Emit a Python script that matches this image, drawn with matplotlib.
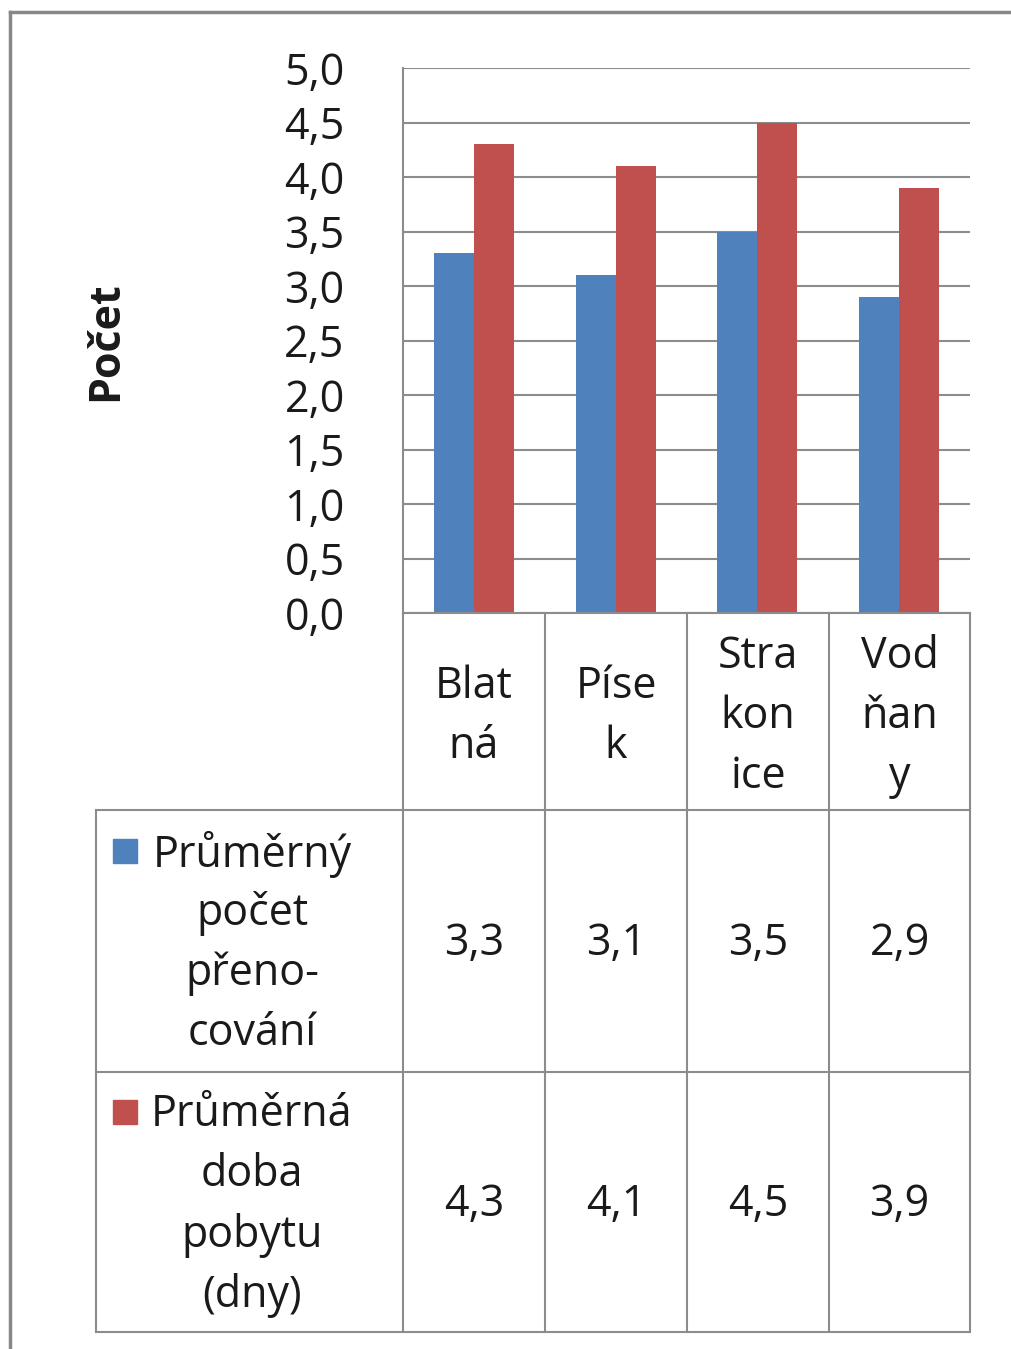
import matplotlib
matplotlib.use("Agg")
import matplotlib.pyplot as plt
from matplotlib.lines import Line2D
from matplotlib.patches import Rectangle
import numpy as np

categories = ["Blatná", "Písek", "Strakonice", "Vodňany"]
category_labels = [["Blat", "ná"], ["Píse", "k"], ["Stra", "kon", "ice"], ["Vod", "ňan", "y"]]
series_names = ["Průměrný počet přeno-cování", "Průměrná doba pobytu (dny)"]
series_labels = [["Průměrný", "počet", "přeno-", "cování"], ["Průměrná", "doba", "pobytu", "(dny)"]]
prenocovani = [3.3, 3.1, 3.5, 2.9]
doba_pobytu = [4.3, 4.1, 4.5, 3.9]
y_ticks = [0.0, 0.5, 1.0, 1.5, 2.0, 2.5, 3.0, 3.5, 4.0, 4.5, 5.0]
y_label = "Počet"

colors = ["#4F81BD", "#C0504D"]
W, H = 1011, 1349
FONT = "Open Sans"
FS = 31
GRID = "#8c8c8c"
TXT = "#1a1a1a"

plt.rcParams['font.family'] = [FONT, 'DejaVu Sans']
fig = plt.figure(figsize=(W / 100, H / 100), dpi=100)

def fx(x):
    return x / W

def fy(y):
    return 1 - y / H

# chart axes
L, R, T, B = 403, 970, 68, 613
ax = fig.add_axes([fx(L), fy(B), fx(R - L), (B - T) / H])
x = np.arange(len(categories))
bw = 0.282
ax.bar(x - bw / 2, prenocovani, bw, color=colors[0], zorder=3)
ax.bar(x + bw / 2, doba_pobytu, bw, color=colors[1], zorder=3)
ax.set_xlim(-0.5, len(categories) - 0.5)
ax.set_ylim(0, 5)
ax.set_yticks(y_ticks)
ax.set_yticklabels([f"{v:.1f}".replace(".", ",") for v in y_ticks], fontsize=FS, color=TXT)
ax.tick_params(axis="y", length=0, pad=42)
ax.set_xticks([])
ax.grid(axis="y", color=GRID, linewidth=1.5, zorder=0)
for s in ["top", "right", "bottom"]:
    ax.spines[s].set_visible(False)
ax.spines["left"].set_color(GRID)
ax.spines["left"].set_linewidth(1.5)
ax.set_facecolor("none")

fig.text(fx(106), fy(341), y_label, rotation=90, ha="center", va="center",
         fontsize=FS, fontweight="bold", color=TXT)

# table lines
def hline(y, x0, x1):
    fig.add_artist(Line2D([fx(x0), fx(x1)], [fy(y), fy(y)], color=GRID, lw=1.5))

def vline(x, y0, y1):
    fig.add_artist(Line2D([fx(x), fx(x)], [fy(y0), fy(y1)], color=GRID, lw=1.5))

col_edges = [403, 545, 687, 829, 970]
row_edges = [613, 810, 1072, 1332]
hline(613, 403, 970)
for y in row_edges[1:]:
    hline(y, 96, 970)
vline(96, 810, 1332)
vline(403, 613, 1332)
for xe in col_edges[1:]:
    vline(xe, 613, 1332)

LS = 60  # line spacing px
DY = 3   # small vertical text offset

def block(lines, cx, cy):
    n = len(lines)
    for k, t in enumerate(lines):
        yy = cy + (k - (n - 1) / 2) * LS + DY
        fig.text(fx(cx), fy(yy), t, ha="center", va="center", fontsize=FS, color=TXT)

for i, lab in enumerate(category_labels):
    cx = (col_edges[i] + col_edges[i + 1]) / 2
    block(lab, cx, (row_edges[0] + row_edges[1]) / 2 + 2)

for r, (vals, lab) in enumerate(zip([prenocovani, doba_pobytu], series_labels)):
    cy = (row_edges[r + 1] + row_edges[r + 2]) / 2
    block(lab, 252, cy)
    top_line_y = cy - (len(lab) - 1) / 2 * LS
    fig.add_artist(Rectangle((fx(113), fy(top_line_y + 12)), fx(24), 24 / H,
                             color=colors[r], transform=fig.transFigure))
    for i, v in enumerate(vals):
        cx = (col_edges[i] + col_edges[i + 1]) / 2
        fig.text(fx(cx), fy(cy + DY), f"{v:.1f}".replace(".", ","), ha="center",
                 va="center", fontsize=FS, color=TXT)

# outer frame (top and left)
fig.add_artist(Line2D([fx(10), fx(W)], [fy(12), fy(12)], color="#888888", lw=2.5))
fig.add_artist(Line2D([fx(10), fx(10)], [fy(12), fy(H)], color="#888888", lw=2.5))

fig.savefig("out.png", dpi=100)
